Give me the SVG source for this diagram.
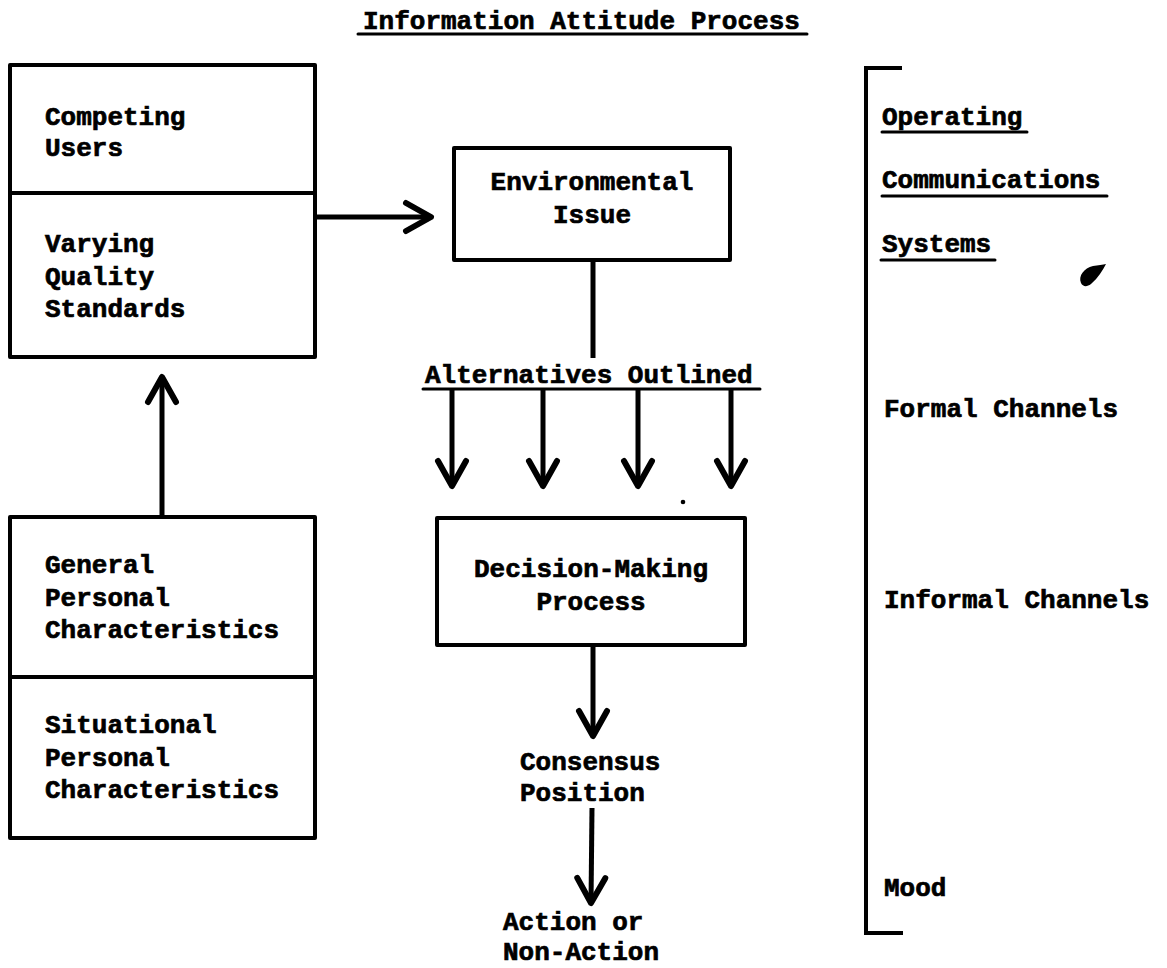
<svg xmlns="http://www.w3.org/2000/svg" width="1167" height="968" viewBox="0 0 1167 968">
  <style>
    .t { font-family: "Liberation Mono", "DejaVu Sans Mono", monospace; font-weight: bold; font-size: 26px; fill: #000; stroke: #000; stroke-width: 0.7px; }
    .c { text-anchor: middle; }
    .box { fill: #fff; stroke: #000; stroke-width: 4; stroke-linejoin: round; }
    .ul { stroke: #000; stroke-width: 3; stroke-linecap: round; }
    .wire { fill: none; stroke: #000; stroke-width: 5; stroke-linecap: butt; }
    .bracket { fill: none; stroke: #000; stroke-width: 4; stroke-linejoin: miter; }
  </style>
  <defs>
    <marker id="chev" viewBox="-30 -20 34 40" refX="0" refY="0" markerWidth="34" markerHeight="40" markerUnits="userSpaceOnUse" orient="auto" overflow="visible">
      <path d="M-25,-14 L0,0 L-25,14" fill="none" stroke="#000" stroke-width="6" stroke-linecap="round" stroke-linejoin="round"/>
    </marker>
  </defs>

  <rect width="1167" height="968" fill="#fff"/>

  <!-- heading -->
  <g id="title">
    <text class="t" x="363" y="29">Information Attitude Process</text>
    <line class="ul" x1="358" y1="34" x2="807" y2="34"/>
  </g>

  <!-- left column: source factors -->
  <g id="node-competing-users">
    <rect class="box" x="10" y="65" width="305" height="128"/>
    <text class="t" x="45" y="125">Competing</text>
    <text class="t" x="45" y="156">Users</text>
  </g>
  <g id="node-quality-standards">
    <rect class="box" x="10" y="193" width="305" height="164"/>
    <text class="t" x="45" y="252">Varying</text>
    <text class="t" x="45" y="285">Quality</text>
    <text class="t" x="45" y="317">Standards</text>
  </g>
  <g id="node-general-characteristics">
    <rect class="box" x="10" y="517" width="305" height="160"/>
    <text class="t" x="45" y="573">General</text>
    <text class="t" x="45" y="606">Personal</text>
    <text class="t" x="45" y="638">Characteristics</text>
  </g>
  <g id="node-situational-characteristics">
    <rect class="box" x="10" y="677" width="305" height="161"/>
    <text class="t" x="45" y="733">Situational</text>
    <text class="t" x="45" y="766">Personal</text>
    <text class="t" x="45" y="798">Characteristics</text>
  </g>

  <!-- centre column: the decision flow -->
  <g id="node-environmental-issue">
    <rect class="box" x="454" y="148" width="276" height="112"/>
    <text class="t c" x="592" y="190">Environmental</text>
    <text class="t c" x="592" y="223">Issue</text>
  </g>
  <g id="node-alternatives">
    <text class="t" x="425" y="383">Alternatives Outlined</text>
    <line class="ul" x1="423" y1="389" x2="760" y2="389"/>
  </g>
  <g id="node-decision-making">
    <rect class="box" x="437" y="518" width="308" height="127"/>
    <text class="t c" x="591" y="577">Decision-Making</text>
    <text class="t c" x="591" y="610">Process</text>
  </g>
  <g id="node-consensus">
    <text class="t" x="520" y="770">Consensus</text>
    <text class="t" x="520" y="801">Position</text>
  </g>
  <g id="node-action">
    <text class="t" x="503" y="930">Action or</text>
    <text class="t" x="503" y="960">Non-Action</text>
  </g>

  <!-- right column: communication systems -->
  <g id="node-communications">
    <path class="bracket" d="M902,68 L866,68 L866,933 L903,933"/>
    <text class="t" x="882" y="125">Operating</text>
    <line class="ul" x1="882" y1="132" x2="1027" y2="132"/>
    <text class="t" x="882" y="188">Communications</text>
    <line class="ul" x1="882" y1="196" x2="1107" y2="196"/>
    <text class="t" x="882" y="252">Systems</text>
    <line class="ul" x1="881" y1="260" x2="995" y2="260"/>
    <text class="t" x="884" y="417">Formal Channels</text>
    <text class="t" x="884" y="608">Informal Channels</text>
    <text class="t" x="884" y="896">Mood</text>
  </g>

  <!-- stray ink marks on the sheet -->
  <g id="marks">
    <path d="M1081,283 C1078,276 1084,268 1093,266 C1098,265 1103,265 1106,264 C1103,270 1098,278 1091,284 C1087,287 1083,287 1081,283 Z" fill="#000"/>
    <circle cx="683" cy="502" r="2.3" fill="#000"/>
  </g>

  <!-- connectors -->
  <g id="connectors">
    <line class="wire" x1="317" y1="217" x2="431" y2="217" marker-end="url(#chev)"/>
    <line class="wire" x1="162" y1="515" x2="162" y2="377" marker-end="url(#chev)"/>
    <line class="wire" x1="593" y1="262" x2="593" y2="358"/>
    <line class="wire" x1="452" y1="390" x2="452" y2="486" marker-end="url(#chev)"/>
    <line class="wire" x1="543" y1="390" x2="543" y2="486" marker-end="url(#chev)"/>
    <line class="wire" x1="638" y1="390" x2="638" y2="486" marker-end="url(#chev)"/>
    <line class="wire" x1="731" y1="390" x2="731" y2="486" marker-end="url(#chev)"/>
    <line class="wire" x1="593" y1="647" x2="593" y2="736" marker-end="url(#chev)"/>
    <line class="wire" x1="592" y1="808" x2="591" y2="903" marker-end="url(#chev)"/>
  </g>
</svg>
